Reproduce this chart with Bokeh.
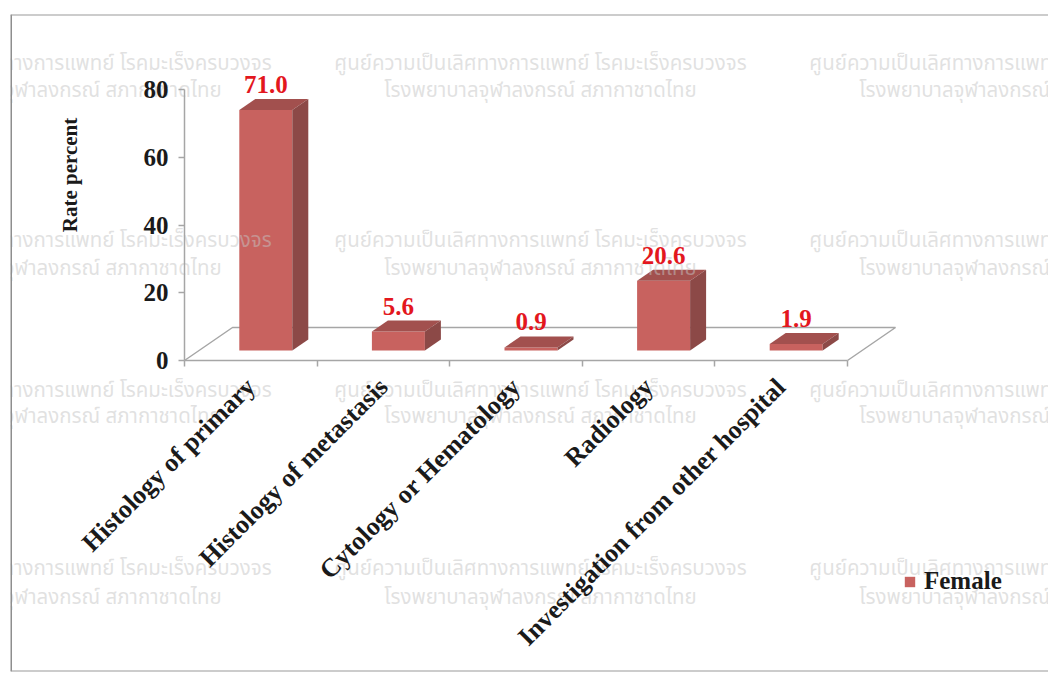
import math
from bokeh.plotting import figure
from bokeh.models import (LinearAxis, FixedTicker, Range1d, Span, Label,
                          Legend, LegendItem)
from bokeh.embed import file_html
from bokeh.resources import INLINE
from bokeh.core.properties import value

# ---------------- data ----------------
categories = ["Histology of primary", "Histology of metastasis",
              "Cytology or Hematology", "Radiology",
              "Investigation from other hospital"]
female = [71.0, 5.6, 0.9, 20.6, 1.9]
y_ticks = [0, 20, 40, 60, 80]
y_title = "Rate percent"
series_name = "Female"
watermark_1 = "ศูนย์ความเป็นเลิศทางการแพทย์ โรคมะเร็งครบวงจร"
watermark_2 = "โรงพยาบาลจุฬาลงกรณ์ สภากาชาดไทย"

# ---------------- layout (page pixels) ----------------
AX_X, AX_Y = 184, 360          # category 0 / value 0
CAT_PX = 132.6                 # pixels per category
VAL_PX = (360 - 89) / 80       # pixels per value unit
FR_L, FR_T, FR_R, FR_B = 10, 14, 1048, 671


def dx(px):
    return px / CAT_PX


def dy(px):
    return px / VAL_PX


def xd(px):
    return (px - AX_X) / CAT_PX


def yd(py):
    return (AX_Y - py) / VAL_PX


SERIF = value("Liberation Serif")
GRAY = "#a6a6a6"
FRONT = "#c8625f"
TOP = "#a2504e"
SIDE = "#8c4947"

p = figure(width=1048, height=673,
           x_range=Range1d(xd(FR_L), xd(FR_R)),
           y_range=Range1d(yd(FR_B), yd(FR_T)),
           output_backend="svg", toolbar_location=None,
           x_axis_type=None, y_axis_type=None,
           min_border_left=FR_L, min_border_top=FR_T,
           min_border_right=1048 - FR_R, min_border_bottom=673 - FR_B)
p.outline_line_color = None
p.background_fill_color = "white"
p.border_fill_color = "white"

n = len(categories)
centers = [i + 0.5 for i in range(n)]

# floor of the 3-D plot area
FL_DX, FL_DY = dx(48), dy(33)
p.line([0, FL_DX, n + FL_DX, n], [0, FL_DY, FL_DY, 0],
       line_color=GRAY, line_width=1.5)

# bars
BAR_W = dx(53)
F_DX, F_DY = dx(15), dy(10)
D_DX, D_DY = dx(16), dy(11)
left = [c - BAR_W / 2 + F_DX for c in centers]
right = [c + BAR_W / 2 + F_DX for c in centers]
bottom = [F_DY for _ in female]
top = [F_DY + v for v in female]

front = p.quad(left=left, right=right, bottom=bottom, top=top,
               fill_color=FRONT, line_color=None)
p.patches(xs=[[l, r, r + D_DX, l + D_DX] for l, r in zip(left, right)],
          ys=[[t, t, t + D_DY, t + D_DY] for t in top],
          fill_color=TOP, line_color=None)
p.patches(xs=[[r, r + D_DX, r + D_DX, r] for r in right],
          ys=[[b, b + D_DY, t + D_DY, t] for b, t in zip(bottom, top)],
          fill_color=SIDE, line_color=None)

# watermark
wm_x = [xd(px) for px in (65, 540, 1015)]
wm_rows = [(63, 90), (240, 268), (390, 416), (568, 597)]
wx, wy, wt = [], [], []
for r1, r2 in wm_rows:
    for x in wm_x:
        wx += [x, x]
        wy += [yd(r1), yd(r2)]
        wt += [watermark_1, watermark_2]
p.text(x=wx, y=wy, text=wt, text_align="center", text_baseline="middle",
       text_font=value("Noto Sans Thai"), text_font_size="20.5px",
       text_color="#c4c4c4", text_alpha=0.5)

# value labels
p.text(x=[(l + r) / 2 for l, r in zip(left, right)],
       y=[t + D_DY for t in top], text=[f"{v:.1f}" for v in female],
       text_align="center", text_baseline="bottom", y_offset=-6,
       text_font=SERIF, text_font_style="bold", text_font_size="25px",
       text_color="#e3171e")

# category axis line + ticks
xa = LinearAxis(fixed_location=0, bounds=(0, n),
                ticker=FixedTicker(ticks=list(range(n + 1))),
                major_label_overrides={i: "" for i in range(n + 1)},
                major_tick_in=0, major_tick_out=6, minor_tick_out=0,
                axis_line_color=GRAY, axis_line_width=1.5,
                major_tick_line_color=GRAY, major_tick_line_width=1.5)
p.add_layout(xa, "below")

# category labels
xl = LinearAxis(fixed_location=0,
                ticker=FixedTicker(ticks=centers),
                major_label_overrides={c: t for c, t in zip(centers, categories)},
                major_label_orientation=math.pi / 4,
                major_label_standoff=16,
                axis_line_color=None, major_tick_line_color=None,
                minor_tick_line_color=None,
                major_label_text_font="Liberation Serif",
                major_label_text_font_style="bold",
                major_label_text_font_size="26px",
                major_label_text_color="#1a1a1a")
p.add_layout(xl, "below")

# value axis
ya = LinearAxis(fixed_location=0, bounds=(0, 80),
                ticker=FixedTicker(ticks=y_ticks),
                major_tick_in=0, major_tick_out=6, minor_tick_out=0,
                major_label_standoff=10,
                axis_line_color=GRAY, axis_line_width=1.5,
                major_tick_line_color=GRAY, major_tick_line_width=1.5,
                major_label_text_font="Liberation Serif",
                major_label_text_font_style="bold",
                major_label_text_font_size="25px",
                major_label_text_color="#1a1a1a")
p.add_layout(ya, "left")

p.add_layout(Label(x=xd(69), y=yd(174.5), text=y_title, angle=math.pi / 2,
                   text_align="center", text_baseline="middle",
                   text_font="Liberation Serif", text_font_style="bold",
                   text_font_size="21px", text_color="#1a1a1a"))

# legend
legend = Legend(items=[LegendItem(label=series_name, renderers=[front])],
                location=(893, 76), orientation="vertical",
                glyph_width=13, glyph_height=13, label_standoff=8,
                padding=0, margin=0, border_line_color=None,
                background_fill_alpha=0,
                label_text_font="Liberation Serif",
                label_text_font_style="bold", label_text_font_size="25px",
                label_text_color="#1a1a1a")
p.add_layout(legend)

# frame border
p.add_layout(Span(location=xd(FR_L), dimension="height",
                  line_color="#8e8e8e", line_width=3))
p.add_layout(Span(location=yd(FR_T), dimension="width",
                  line_color="#9a9a9a", line_width=2))
p.add_layout(Span(location=yd(FR_B), dimension="width",
                  line_color="#9a9a9a", line_width=2))

open("out.html", "w").write(file_html(p, INLINE))
